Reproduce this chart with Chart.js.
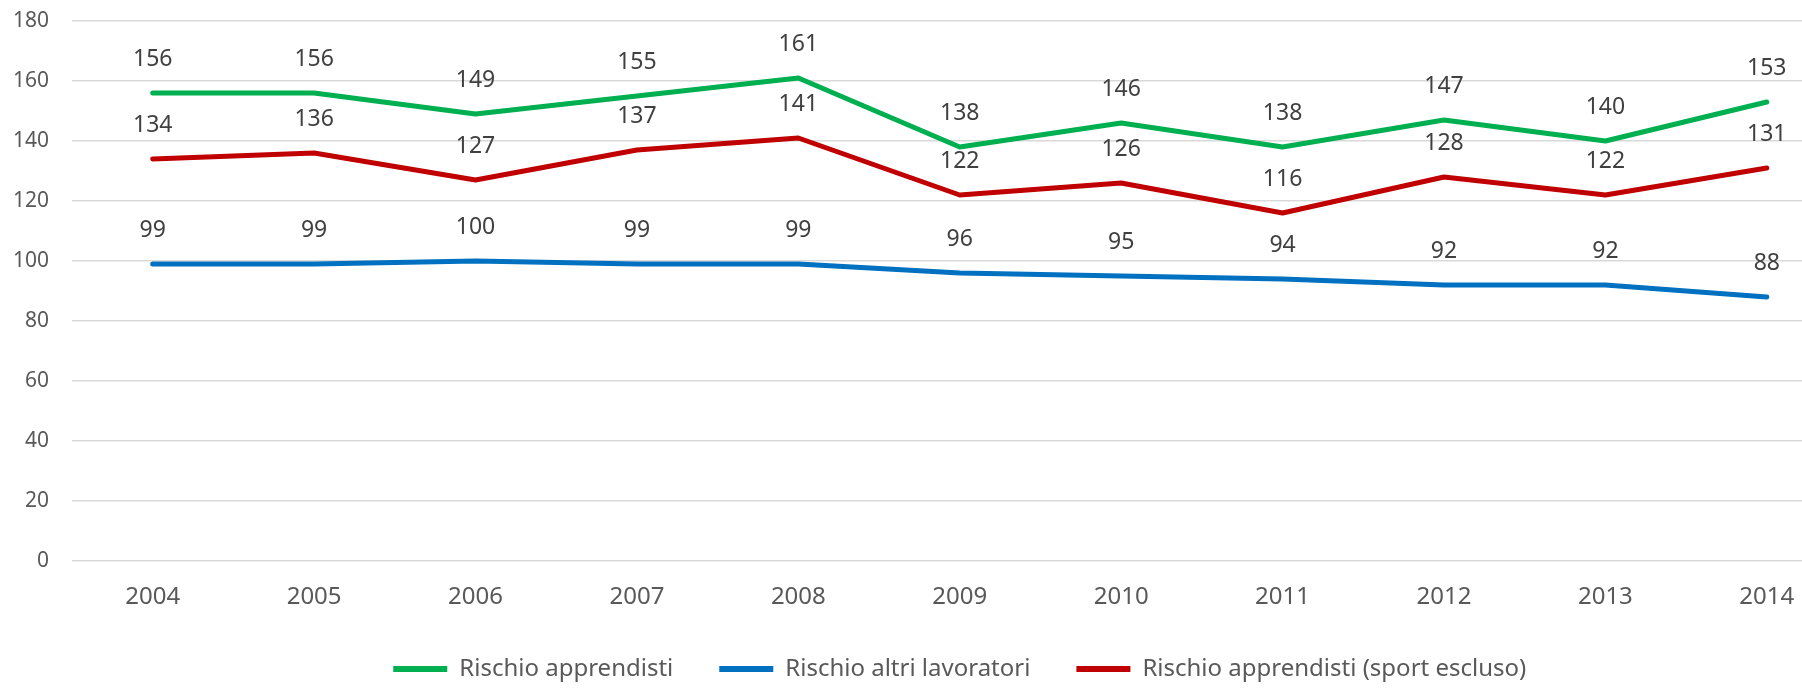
<!DOCTYPE html>
<html>
<head>
<meta charset="utf-8">
<script src="https://cdn.jsdelivr.net/npm/chart.js@4/dist/chart.umd.min.js"></script>
<style>
  html, body { margin: 0; padding: 0; background: #fff; overflow: hidden; }
  canvas { display: block; }
</style>
</head>
<body>
<canvas id="lineChart" width="1860" height="691"></canvas>
<script>
const years = ["2004", "2005", "2006", "2007", "2008", "2009", "2010", "2011", "2012", "2013", "2014"];
const rischioApprendisti = [156, 156, 149, 155, 161, 138, 146, 138, 147, 140, 153];
const rischioAltri = [99, 99, 100, 99, 99, 96, 95, 94, 92, 92, 88];
const rischioSenzaSport = [134, 136, 127, 137, 141, 122, 126, 116, 128, 122, 131];
const yTicks = [0, 20, 40, 60, 80, 100, 120, 140, 160, 180];

const FONT = "'Noto Sans', 'Open Sans', sans-serif";

// value labels above every point, like Excel's data labels
const pointLabels = {
  id: 'pointLabels',
  afterDatasetsDraw(chart) {
    const ctx = chart.ctx;
    ctx.save();
    ctx.font = "23px " + FONT;
    ctx.fillStyle = "#404040";
    ctx.textAlign = "center";
    ctx.textBaseline = "middle";
    chart.data.datasets.forEach((ds, i) => {
      chart.getDatasetMeta(i).data.forEach((pt, j) => {
        ctx.fillText(ds.data[j], pt.x, pt.y - 34);
      });
    });
    ctx.restore();
  }
};

const lineChart = document.getElementById('lineChart');
new Chart(lineChart, {
  type: 'line',
  data: {
    labels: years,
    datasets: [
      { label: "Rischio apprendisti", data: rischioApprendisti, borderColor: "#00B050", backgroundColor: "#00B050" },
      { label: "Rischio altri lavoratori", data: rischioAltri, borderColor: "#0070C0", backgroundColor: "#0070C0" },
      { label: "Rischio apprendisti (sport escluso)", data: rischioSenzaSport, borderColor: "#C00000", backgroundColor: "#C00000" }
    ]
  },
  options: {
    responsive: false,
    devicePixelRatio: 1,
    animation: false,
    layout: { padding: { top: 21, right: 12.5, bottom: 0, left: 0 } },
    elements: {
      line: { borderWidth: 5, tension: 0, borderCapStyle: 'round', borderJoinStyle: 'round' },
      point: { radius: 0, hoverRadius: 0 }
    },
    scales: {
      x: {
        offset: true,
        grid: { display: false, drawTicks: false },
        border: { display: false },
        ticks: { color: "#595959", font: { family: FONT, size: 24 }, padding: 22, maxRotation: 0 },
        afterFit(scale) { scale.height = 50; }
      },
      y: {
        min: 0,
        max: 180,
        afterBuildTicks(scale) { scale.ticks = yTicks.map(v => ({ value: v })); },
        // invisible tick marks give the label gap without padding the top
        grid: { color: "#D9D9D9", lineWidth: 1.5, drawTicks: true, tickLength: 23, tickColor: "rgba(0,0,0,0)" },
        border: { display: false },
        ticks: { color: "#595959", font: { family: FONT, size: 21 }, padding: 0 },
        afterFit(scale) { scale.width = 72; }
      }
    },
    plugins: {
      legend: {
        position: 'bottom',
        fullSize: false,
        labels: {
          color: "#595959",
          font: { family: FONT, size: 24 },
          boxWidth: 54,
          boxHeight: 6,
          padding: 46,
          generateLabels(chart) {
            return chart.data.datasets.map((ds, i) => ({
              text: ds.label,
              fillStyle: ds.borderColor,
              strokeStyle: ds.borderColor,
              lineWidth: 0,
              fontColor: "#595959",
              datasetIndex: i
            }));
          }
        }
      },
      tooltip: { enabled: false }
    }
  },
  plugins: [pointLabels]
});
</script>
</body>
</html>
